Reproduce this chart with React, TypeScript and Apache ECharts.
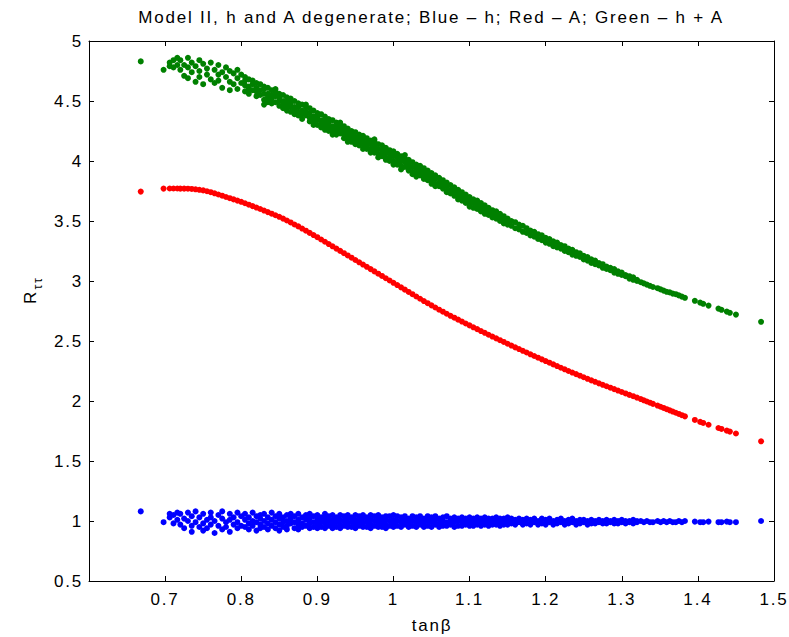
import React, { useEffect, useRef } from 'react';
import * as echarts from 'echarts';

// tanβ positions of the sampled points (shared by the three series)
const tanB = [
  0.668, 0.698, 0.706, 0.711, 0.716,
  0.720, 0.725, 0.730, 0.735, 0.740, 0.745, 0.750, 0.755, 0.760, 0.765,
  0.770, 0.775, 0.780, 0.785, 0.790, 0.795, 0.800, 0.805, 0.810, 0.815,
  0.820, 0.825, 0.830, 0.835, 0.840, 0.845, 0.850, 0.855, 0.860, 0.865,
  0.870, 0.875, 0.880, 0.885, 0.890, 0.895, 0.900, 0.905, 0.910, 0.915,
  0.920, 0.925, 0.930, 0.935, 0.940, 0.945, 0.950, 0.955, 0.960, 0.965,
  0.970, 0.975, 0.980, 0.985, 0.990, 0.995, 1.000, 1.005, 1.010, 1.015,
  1.020, 1.025, 1.030, 1.035, 1.040, 1.045, 1.050, 1.055, 1.060, 1.065,
  1.070, 1.075, 1.080, 1.085, 1.090, 1.095, 1.100, 1.105, 1.110, 1.115,
  1.120, 1.125, 1.130, 1.135, 1.140, 1.145, 1.150, 1.155, 1.160, 1.165,
  1.170, 1.175, 1.180, 1.185, 1.190, 1.195, 1.200, 1.205, 1.210, 1.215,
  1.220, 1.225, 1.230, 1.235, 1.240, 1.245, 1.250, 1.255, 1.260, 1.265,
  1.270, 1.275, 1.280, 1.285, 1.290, 1.295, 1.300, 1.305, 1.310, 1.315,
  1.320,
  1.325, 1.329, 1.333, 1.337, 1.341, 1.347, 1.351, 1.355, 1.359, 1.363,
  1.367, 1.371, 1.375, 1.379, 1.383, 1.396, 1.403, 1.407, 1.414, 1.427,
  1.431, 1.438, 1.442, 1.450, 1.483,
];

// Red – A (one value per tanβ)
const rA = [
  3.745, 3.770, 3.771, 3.771, 3.771,
  3.770, 3.770, 3.769, 3.767, 3.764, 3.760, 3.755, 3.748, 3.740, 3.731,
  3.721, 3.711, 3.700, 3.690, 3.680, 3.670, 3.660, 3.648, 3.636, 3.624,
  3.612, 3.600, 3.587, 3.574, 3.561, 3.548, 3.535, 3.520, 3.504, 3.488,
  3.471, 3.455, 3.437, 3.419, 3.401, 3.383, 3.365, 3.346, 3.327, 3.308,
  3.289, 3.270, 3.251, 3.232, 3.213, 3.194, 3.175, 3.156, 3.137, 3.118,
  3.099, 3.080, 3.061, 3.042, 3.023, 3.004, 2.985, 2.966, 2.947, 2.928,
  2.909, 2.890, 2.871, 2.852, 2.833, 2.815, 2.797, 2.779, 2.761, 2.744,
  2.727, 2.710, 2.694, 2.678, 2.662, 2.646, 2.630, 2.614, 2.599, 2.583,
  2.568, 2.552, 2.537, 2.522, 2.507, 2.492, 2.477, 2.462, 2.447, 2.433,
  2.418, 2.404, 2.389, 2.375, 2.361, 2.347, 2.333, 2.319, 2.305, 2.291,
  2.277, 2.264, 2.250, 2.237, 2.224, 2.211, 2.198, 2.185, 2.172, 2.160,
  2.147, 2.135, 2.123, 2.111, 2.099, 2.087, 2.075, 2.063, 2.051, 2.040,
  2.028,
  2.016, 2.006, 1.996, 1.986, 1.976, 1.962, 1.952, 1.942, 1.932, 1.922,
  1.912, 1.902, 1.892, 1.882, 1.872, 1.842, 1.826, 1.817, 1.802, 1.775,
  1.767, 1.753, 1.745, 1.729, 1.664,
];

// Green – h + A (values seen at each tanβ)
const rHA = [
  [4.83], [4.76], [4.79, 4.82], [4.84, 4.78], [4.80, 4.86],
  [4.84, 4.76], [4.80, 4.71], [4.86, 4.78, 4.69], [4.82, 4.74], [4.79, 4.66], [4.84, 4.75, 4.70], [4.81, 4.64], [4.77, 4.72], [4.82, 4.68], [4.76, 4.65],
  [4.80, 4.72, 4.67], [4.74, 4.61], [4.78, 4.70], [4.75, 4.66, 4.59], [4.73, 4.64], [4.76, 4.69, 4.60], [4.72, 4.65], [4.70, 4.67, 4.63, 4.58], [4.68, 4.62, 4.60, 4.56], [4.67, 4.64, 4.59],
  [4.65, 4.61, 4.58, 4.54], [4.64, 4.59, 4.55], [4.62, 4.60, 4.56, 4.51, 4.47], [4.61, 4.56, 4.53, 4.49], [4.59, 4.55, 4.52, 4.48], [4.60, 4.58, 4.54, 4.49], [4.56, 4.53, 4.50, 4.46], [4.55, 4.50, 4.47, 4.44], [4.53, 4.49, 4.45, 4.42], [4.52, 4.48, 4.45, 4.41],
  [4.50, 4.45, 4.42, 4.39], [4.48, 4.45, 4.41, 4.38], [4.47, 4.42, 4.39, 4.35], [4.47, 4.45, 4.41, 4.38], [4.44, 4.40, 4.36, 4.33], [4.42, 4.37, 4.33, 4.30], [4.40, 4.37, 4.34, 4.30], [4.39, 4.34, 4.31, 4.28], [4.37, 4.33, 4.29, 4.26], [4.35, 4.32, 4.28, 4.25],
  [4.34, 4.29, 4.26, 4.22], [4.32, 4.28, 4.25, 4.22], [4.32, 4.30, 4.27, 4.23], [4.29, 4.25, 4.22, 4.19], [4.27, 4.23, 4.19, 4.16], [4.25, 4.22, 4.19, 4.16], [4.24, 4.20, 4.17, 4.14], [4.22, 4.19, 4.15, 4.13], [4.21, 4.17, 4.14, 4.10], [4.19, 4.15, 4.12, 4.10],
  [4.17, 4.14, 4.10, 4.07], [4.18, 4.16, 4.12, 4.09, 4.07], [4.14, 4.10, 4.06, 4.03], [4.13, 4.09, 4.06, 4.04], [4.11, 4.07, 4.03, 4.01], [4.09, 4.06, 4.02, 4.00], [4.08, 4.04, 4.00, 3.97], [4.06, 4.03, 3.99, 3.97], [4.04, 4.00, 3.96, 3.93], [4.05, 4.02, 3.99, 3.95],
  [4.01, 3.97, 3.94, 3.92], [3.99, 3.95, 3.91, 3.89], [3.97, 3.94, 3.90, 3.87], [3.96, 3.92, 3.88], [3.94, 3.90, 3.87, 3.85], [3.92, 3.88, 3.84], [3.90, 3.87, 3.83, 3.81], [3.88, 3.85, 3.81, 3.79], [3.86, 3.82, 3.79], [3.84, 3.80, 3.77],
  [3.82, 3.79, 3.75, 3.74], [3.80, 3.76, 3.73], [3.78, 3.75, 3.71], [3.76, 3.73, 3.70, 3.68], [3.74, 3.71, 3.67], [3.72, 3.69, 3.65], [3.70, 3.67, 3.64, 3.62], [3.68, 3.65, 3.61], [3.67, 3.63, 3.60], [3.65, 3.62, 3.58],
  [3.63, 3.60, 3.57, 3.56], [3.61, 3.58, 3.55], [3.59, 3.56, 3.53], [3.58, 3.55, 3.52], [3.56, 3.53, 3.50], [3.54, 3.51, 3.48], [3.52, 3.49, 3.47], [3.50, 3.46], [3.49, 3.44], [3.47, 3.43],
  [3.46, 3.41], [3.44, 3.40], [3.42, 3.38], [3.41, 3.37], [3.39, 3.35], [3.38, 3.34], [3.36, 3.32], [3.35, 3.31], [3.33, 3.29], [3.32, 3.28],
  [3.30, 3.27], [3.29, 3.25], [3.27, 3.24], [3.26, 3.22], [3.24, 3.21], [3.23, 3.20], [3.21, 3.18], [3.20, 3.17], [3.18, 3.15], [3.17, 3.14],
  [3.15, 3.13], [3.14, 3.11], [3.12, 3.10], [3.11, 3.09], [3.10, 3.07], [3.08, 3.06], [3.07, 3.05], [3.05, 3.04], [3.04, 3.02], [3.03, 3.01],
  [3.01, 3.00],
  [2.99], [2.98], [2.97], [2.96], [2.95], [2.94], [2.93], [2.92], [2.91], [2.905],
  [2.895], [2.89], [2.88], [2.87], [2.86], [2.835], [2.82], [2.81], [2.795], [2.77],
  [2.76], [2.745], [2.735], [2.72], [2.66],
];

// Blue – h (values seen at each tanβ)
const rH = [
  [1.08], [0.99], [1.03, 1.06], [1.05, 0.98], [1.07, 1.01],
  [1.06, 0.97], [1.02, 0.94], [1.07, 1.00], [1.04, 0.96, 0.91], [1.08, 0.99], [1.03, 0.95], [1.06, 0.98, 0.92], [1.01, 0.94], [1.07, 1.03, 0.97], [1.00, 0.90],
  [1.05, 0.96], [1.08, 1.02, 0.93], [0.99, 0.95], [1.06, 1.01, 0.91], [1.03, 0.97], [1.07, 0.99, 0.94], [1.04, 0.96], [1.06, 1.01, 0.95], [1.03, 0.98, 0.93], [1.07, 1.00, 0.96],
  [1.04, 0.99, 0.92], [1.05, 1.02, 0.97, 0.94], [1.06, 1.00, 0.95], [1.03, 0.98, 0.93], [1.07, 1.01, 0.96], [1.04, 0.99, 0.94], [1.06, 1.02, 0.97, 0.92], [1.03, 0.99, 0.95], [1.05, 1.00, 0.96, 0.93], [1.06, 1.02, 0.98],
  [1.04, 0.99, 0.94], [1.06, 1.01, 0.97, 0.93], [1.03, 0.98, 0.95], [1.05, 1.01, 0.96], [1.06, 1.02, 0.98, 0.94], [1.04, 0.99, 0.95], [1.05, 1.01, 0.97, 0.94], [1.03, 0.99, 0.95], [1.06, 1.02, 0.98, 0.94], [1.04, 1.00, 0.96],
  [1.05, 1.01, 0.97, 0.94], [1.03, 0.99, 0.95], [1.05, 1.01, 0.97, 0.94], [1.04, 1.00, 0.96], [1.05, 1.02, 0.98, 0.95], [1.03, 0.99, 0.95], [1.05, 1.01, 0.97, 0.94], [1.04, 1.00, 0.96], [1.05, 1.02, 0.98, 0.95], [1.03, 0.99, 0.95],
  [1.05, 1.01, 0.97, 0.94], [1.04, 1.00, 0.96], [1.05, 1.02, 0.98, 0.95], [1.03, 0.99, 0.95], [1.04, 1.01, 0.97, 0.94], [1.04, 1.00, 0.96], [1.05, 1.01, 0.98, 0.95], [1.04, 1.00, 0.96], [1.03, 0.99, 0.95], [1.04, 1.01, 0.97],
  [1.02, 0.98, 0.95], [1.04, 1.00, 0.96], [1.03, 0.99, 0.95], [1.04, 1.01, 0.97], [1.02, 0.98, 0.95], [1.04, 1.00, 0.96], [1.03, 0.99, 0.95], [1.04, 1.01, 0.97], [1.02, 0.98, 0.95], [1.03, 1.00, 0.96],
  [1.04, 0.99, 0.96], [1.02, 1.00, 0.97], [1.03, 0.99, 0.95], [1.02, 1.00, 0.96], [1.03, 0.99, 0.96], [1.02, 1.00, 0.97], [1.03, 0.99, 0.96], [1.02, 0.99, 0.96], [1.03, 1.00, 0.97], [1.02, 0.99, 0.96],
  [1.03, 1.00, 0.97], [1.02, 0.99, 0.96], [1.02, 1.00, 0.97], [1.03, 0.99, 0.97], [1.02, 1.00, 0.96], [1.02, 0.99, 0.97], [1.03, 1.00, 0.97], [1.02, 0.98], [1.01, 0.97], [1.02, 0.99],
  [1.01, 0.97], [1.02, 0.98], [1.01, 0.97], [1.02, 0.99], [1.00, 0.97], [1.02, 0.98], [1.01, 0.97], [1.02, 0.99], [1.00, 0.97], [1.01, 0.98],
  [1.02, 0.99], [1.00, 0.97], [1.01, 0.98], [1.02, 0.99], [1.00, 0.97], [1.01, 0.98], [1.01, 0.99], [1.00, 0.97], [1.01, 0.98], [1.00, 0.98],
  [1.01, 0.99], [1.00, 0.98], [1.01, 0.98], [1.00, 0.99], [1.01, 0.98], [1.00, 0.98], [1.01, 0.99], [1.00, 0.98], [1.00, 0.99], [1.01, 0.98],
  [1.00, 0.99],
  [1.00], [0.99], [1.00], [0.99], [0.99], [1.00], [0.99], [1.00], [0.99], [1.00],
  [0.99], [0.99], [1.00], [0.99], [1.00], [0.995], [0.99], [0.99], [0.995], [0.99],
  [0.99], [0.995], [0.99], [0.99], [1.00],
];

const xTicks = { min: 0.6, max: 1.5, interval: 0.1 };
const yTicks = { min: 0.5, max: 5, interval: 0.5 };

const titleText = 'Model II, h and A degenerate; Blue \u2013 h; Red \u2013 A; Green \u2013 h + A';
const xName = 'tan\u03b2';

const FONT = '"Liberation Sans", Arial, Helvetica, sans-serif';
const FS = 17;

const cols = (ys: number[][]) => ys.flatMap((list, i) => list.map((y) => [tanB[i], y]));
const line = (ys: number[]) => ys.map((y, i) => [tanB[i], y]);

const fmt = (v: number) => String(+v.toFixed(1));

const baseAxis = {
  type: 'value' as const,
  axisLine: { show: true, onZero: false, lineStyle: { color: '#000', width: 1 } },
  axisTick: { show: true, inside: true, length: 5, lineStyle: { color: '#000', width: 1 } },
  splitLine: { show: false },
};

export default function App() {
  const ref = useRef<HTMLDivElement>(null);
  useEffect(() => {
    const chart = echarts.init(ref.current!, null, { renderer: 'svg' });
    const sym = { type: 'scatter' as const, symbol: 'circle', symbolSize: 6, xAxisIndex: 0, yAxisIndex: 0 };
    chart.setOption({
      animation: false,
      backgroundColor: '#fff',
      textStyle: { fontFamily: FONT },
      grid: { left: 89, right: 15, top: 41, bottom: 56, containLabel: false },
      xAxis: [
        {
          ...baseAxis, ...xTicks, position: 'bottom',
          axisLabel: {
            show: true, margin: 10, color: '#000', fontSize: FS, fontFamily: FONT,
            formatter: (v: number) => (v < 0.65 ? '' : fmt(v)),
          },
        },
        { ...baseAxis, ...xTicks, position: 'top', axisLabel: { show: false } },
      ],
      yAxis: [
        {
          ...baseAxis, ...yTicks, position: 'left',
          axisLabel: { show: true, margin: 6, color: '#000', fontSize: FS, fontFamily: FONT, formatter: fmt },
        },
        { ...baseAxis, ...yTicks, position: 'right', axisLabel: { show: false } },
      ],
      graphic: [
        {
          type: 'text', x: 431, y: 17,
          style: { text: titleText, fill: '#000', font: `${FS}px ${FONT}`, textAlign: 'center', textVerticalAlign: 'middle' },
        },
        {
          type: 'text', x: 432, y: 625,
          style: { text: xName, fill: '#000', font: `${FS}px ${FONT}`, textAlign: 'center', textVerticalAlign: 'middle' },
        },
        {
          type: 'text', x: 30, y: 297, rotation: Math.PI / 2,
          style: { text: 'R', fill: '#000', font: `${FS}px ${FONT}`, textAlign: 'center', textVerticalAlign: 'middle' },
        },
        {
          type: 'text', x: 38, y: 283, rotation: Math.PI / 2,
          style: { text: '\u03c4\u03c4', fill: '#000', font: `12px ${FONT}`, textAlign: 'center', textVerticalAlign: 'middle' },
        },
      ],
      series: [
        { ...sym, name: 'h', data: cols(rH), itemStyle: { color: '#0000ff', opacity: 1 } },
        { ...sym, name: 'A', data: line(rA), itemStyle: { color: '#ff0000', opacity: 1 } },
        { ...sym, name: 'h + A', data: cols(rHA), itemStyle: { color: '#008000', opacity: 1 } },
      ],
    });
    return () => chart.dispose();
  }, []);
  return (
    <div
      ref={ref}
      style={{ position: 'absolute', left: 0, top: 0, width: 789, height: 637, letterSpacing: '1.8px', background: '#fff' }}
    />
  );
}
